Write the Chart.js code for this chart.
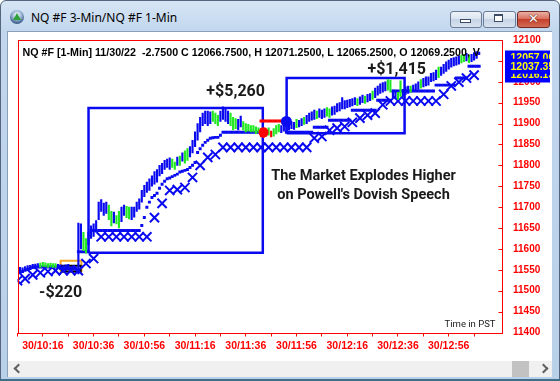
<!DOCTYPE html>
<html>
<head>
<meta charset="utf-8">
<title>NQ #F 3-Min/NQ #F 1-Min</title>
<script src="https://cdn.jsdelivr.net/npm/chart.js@4.4.1/dist/chart.umd.min.js"></script>
<style>
  html, body { margin:0; padding:0; width:560px; height:381px; overflow:hidden; background:#ffffff; }
  .abs { position:absolute; }
  #frame { left:0; top:0; width:558px; height:379px; border:1px solid #55667c; border-radius:6px 6px 1px 1px; background:linear-gradient(180deg,#d6e5f5 0px,#c2d7ee 30px,#b9d0e9 100%); }
  #title { left:31px; top:10px; font-family:"Noto Sans","DejaVu Sans",sans-serif; font-size:12px; color:#000; line-height:16px; white-space:nowrap; }
  #icon { left:10px; top:10px; width:14px; height:14px; border-radius:50%; background:radial-gradient(circle at 50% 35%, #ffffff 0%, #a9c1dc 35%, #40638f 72%, #1f3a60 100%); }
  #tri { left:13px; top:13px; width:0; height:0; border-left:4px solid transparent; border-right:4px solid transparent; border-bottom:7px solid #2fa03a; }
  .btn { top:11px; height:15px; border:1px solid #6a7c96; border-radius:3px; background:linear-gradient(180deg,#eef3f9 0%,#dbe5f1 45%,#c6d4e6 50%,#d9e3ef 100%); }
  #bmin { left:450px; width:30px; }
  #bmax { left:483px; width:31px; }
  #bclose { left:517px; width:31px; border-color:#6e2a22; background:linear-gradient(180deg,#eab0a4 0%,#d9705f 45%,#c4412e 50%,#d36b55 100%); }
  #imin { left:460px; top:19px; width:9px; height:2px; background:#fff; border:1px solid #3b4b63; }
  #imax { left:494px; top:14px; width:7px; height:5px; background:#fff; border:1px solid #3b4b63; border-top-width:2px; }
  #iclose { left:517px; top:10px; width:33px; text-align:center; font: bold 13px "DejaVu Sans", sans-serif; color:#fff; line-height:17px; text-shadow: 0 0 1px #5a1a12, 0 0 1px #5a1a12; }
  #client { left:7px; top:31px; width:545px; height:346px; background:#fff; border-top:1px solid #8a9fb8; border-left:1px solid #8a9fb8; box-sizing:border-box; }
  #hscroll { left:8px; top:361px; width:544px; height:16px; background:#f0f0f0; }
  #thumb { left:512px; top:361px; width:17px; height:16px; background:#c2c2c2; }
  .chev { width:5px; height:5px; border-left:2px solid #606060; border-bottom:2px solid #606060; }
  #larr { left:15px; top:365px; transform:rotate(45deg); }
  #rarr { left:540px; top:365px; transform:rotate(-135deg); }
  #bottomline { left:0; top:379px; width:560px; height:2px; background:#3f6f86; }
  #chart { position:absolute; left:0; top:0; z-index:5; }
</style>
</head>
<body>
<div class="abs" id="frame"></div>
<div class="abs" id="icon"></div>
<div class="abs" id="tri"></div>
<div class="abs" id="title">NQ #F 3-Min/NQ #F 1-Min</div>
<div class="abs btn" id="bmin"></div>
<div class="abs btn" id="bmax"></div>
<div class="abs btn" id="bclose"></div>
<div class="abs" id="imin"></div>
<div class="abs" id="imax"></div>
<div class="abs" id="iclose">✕</div>
<div class="abs" id="client"></div>
<div class="abs" id="hscroll"></div>
<div class="abs" id="thumb"></div>
<div class="abs chev" id="larr"></div>
<div class="abs chev" id="rarr"></div>
<div class="abs" id="bottomline"></div>
<canvas id="chart" width="560" height="381"></canvas>
<script>
// ---------------- DATA ----------------
const headerText = "NQ #F [1-Min] 11/30/22  -2.7500 C 12066.7500, H 12071.2500, L 12065.2500, O 12069.2500, V";

// x axis: minutes after 10:00 (PST)
const tickMinutes = [6,16,26,36,46,56,66,76,86,96,106,116,126,136,146,156,166,176,186];
const timeLabelMinutes = [16,36,56,76,96,116,136,156,176];
const timeLabels = ['30/10:16','30/10:36','30/10:56','30/11:16','30/11:36','30/11:56','30/12:16','30/12:36','30/12:56'];

// y axis
const priceMin = 11400, priceMax = 12100, priceStep = 50;

// 1-minute bars, first bar at minute 7 (10:07), one bar per minute
const firstMinute = 7;
const barLow = [
 11545,11544,11548,11550,11552,
 11553,11552,11555,11556,11558,11557,11556,11557,11556,
 11556,11554,11552,11550,11548,11550,11551,11549,11548,
 11540,11600,11596,11590,11610,11625,11630,11640,
 11670,11690,11680,11685,11670,
 11655,11662,11660,11650,11665,11680,11675,11672,11670,11676,
 11690,11695,11712,11725,11735,11740,11750,11755,11760,
 11775,11780,11790,11795,11790,11795,11790,11800,
 11800,11810,11805,11812,11820,11830,11845,11860,11880,11895,11900,11895,11900,
 11905,11900,11895,11905,11910,11905,11900,11895,
 11885,11888,11885,11892,11885,11880,11882,11880,11880,11876,11878,
 11868,11866,11870,11872,11868,11870,11875,11880,11878,
 11882,11880,11884,11888,11886,11890,11892,11895,
 11898,11900,11905,11908,11910,11912,11915,11912,11915,11918,11915,11920,
 11922,11928,11930,11935,11935,11938,11940,11942,11945,11943,11946,
 11950,11948,11952,11955,11958,11962,11968,11972,11975,11978,11980,11975,
 11962,11960,11958,11965,11965,
 11970,11972,11975,11978,11980,11982,11985,11988,11990,11992,
 12000,12002,12005,12010,12015,12020,12025,12030,12035,12038,12040,12042,
 12045,12048,12050,12046,12048,12052,12056,12065
];
const barHigh = [
 11556,11555,11558,11560,11561,
 11563,11564,11565,11566,11568,11567,11565,11566,11565,
 11565,11563,11562,11560,11562,11563,11558,11560,11556,
 11662,11660,11640,11625,11640,11655,11660,11668,
 11712,11718,11710,11712,11705,
 11690,11688,11680,11690,11700,11705,11702,11700,11700,11700,
 11712,11720,11740,11752,11760,11768,11775,11785,11790,
 11800,11805,11812,11815,11818,11815,11808,11820,
 11822,11830,11835,11840,11845,11860,11880,11900,11915,11925,11930,11930,11928,
 11930,11925,11920,11930,11940,11935,11930,11925,
 11915,11912,11910,11918,11905,11900,11898,11895,11895,11892,11890,
 11888,11885,11886,11890,11882,11888,11895,11898,11895,
 11900,11898,11900,11905,11903,11910,11908,11912,
 11915,11920,11925,11928,11932,11930,11935,11932,11935,11938,11935,11940,
 11942,11948,11950,11962,11955,11956,11958,11960,11962,11960,11964,
 11968,11966,11970,11972,11978,11985,11990,11995,11998,12000,12005,12004,
 11980,11978,11975,12002,11982,
 11988,11990,11990,11992,11995,12000,12005,12008,12012,12012,
 12020,12022,12028,12035,12035,12042,12048,12052,12056,12058,12060,12062,
 12064,12066,12068,12064,12066,12070,12072,12071
];
// bar state: B = blue, G = green, R = red
const barState = (
 "BBBBB" + "BBBGGGGGG" + "GBBBBBBBB" + "BBGGBBBB" + "BBBBG" +
 "GBGGBBGGBB" + "BBBBBBBBB" + "BBBBBGGB" + "GBGGBBBBBBBBB" + "GGGBBBBG" +
 "GGBBGGGGGGG" + "RRRGRGGGB" + "BBBBBGBB" + "GBBBBGBBBGGB" + "BBBBBBBBBGB" +
 "BGBBGBBBBBGG" + "BBGGB" + "BBGBBBGBBB" + "BBBGBBBBBBBB" + "GGBGBBBB"
).split('');

// 1-minute trailing stop dots (aligned with bars, null = none)
const stopDots = [
 11543,11546,11549,11551,11553,
 11557,11557,11557,11557,11557,11557,11557,11557,11557,11557,11557,
 11553,11553,11553,11553,11553,11553,11553,
 11593,11593,11593,11593,11593,
 11644,11644,11644,11644,11644,11644,11644,11644,11644,11644,
 11644,11644,11644,11644,11644,11644,11644,11644,11644,11644,
 11656,11675,11700,11712,11723,11728,11733,
 11745,11755,11762,11768,11770,11773,11776,11779,
 11784,11786,11788,11790,11795,11800,11807,11831,11840,11848,11855,11860,11865,11866,11867,11867,11872,
 11879,11879,11879,11879,11879,11879,11879,11879,11879,11879,11879,11879,11879,11879,11879,
 11906,11906,11906,11906,11906,11906,11906,11906,11906,
 null,
 11879,11879,11879,11879,11879,11879,11879,11879,11879,11879,11879,
 11891,11891,11891,11891,11891,11891,
 11908,11908,11908,11908,11908,11908,11908,11908,11908,
 11932,11932,11932,11932,11932,11932,11932,11932,11932,11932,
 11956,11956,11956,11956,11956,11956,
 11978,11978,11978,11978,11978,11978,11978,11978,11978,11978,11978,11978,11978,11978,11978,11978,11978,
 11992,11992,11992,11992,11992,11992,11992,11992,
 12009,12009,12009,12009,12009,
 12037,12037,12037,12037,12037
];
// minutes where the stop dots sit above price (drawn red)
const stopAboveMinutes = [102,103,104,105,106,107,108,109,110];

// 3-minute stop (X markers)
const xStopMinutes = [6,9,12,15,18,21,24,27,30,33,36,39,42,45,48,51,54,57,60,63,66,69,72,75,78,81,84,87,90,93,96,99,102,105,108,111,114,117,120,123,126,129,132,135,138,141,144,147,150,153,156,159,162,165,168,171,174,177,180,183,186];
const xStopValues = [11524,11529,11538,11543,11546,11548,11548,11548,11548,11565,11577,
 11629,11629,11629,11629,11629,11629,11629,
 11675,11709,11740,11742,11747,11771,11800,11819,11826,
 11843,11843,11843,11843,11843,11843,11843,11843,11843,11843,11843,11843,
 11865,11869,11884,11889,11893,11903,11913,11920,11925,11945,
 11954,11954,11954,11954,11954,11954,11954,
 11970,11990,11999,12009,12016];

// trade boxes (minutes / prices)
const winBoxStart = [34.0, 112.1];
const winBoxEnd   = [102.7, 158.6];
const winBoxLow   = [11591, 11877];
const winBoxHigh  = [11937, 12009];
const lossBoxStart = 23.0, lossBoxEnd = 31.2, lossBoxLow = 11546, lossBoxHigh = 11572;
const stopBoxStart = 23.4, stopBoxEnd = 30.9, stopBoxLow = 11546, stopBoxHigh = 11560;
const exitDotMinute = 103.0, exitDotPrice = 11879;
const entryDotMinute = 112.0, entryDotPrice = 11905;

// text annotations
const tradeLabels = ['+$5,260', '+$1,415', '-$220'];
const tradeLabelMinutes = [92.0, 155.5, 23.0];
const tradeLabelPrices = [11975, 12028, 11495];
const noteLines = ["The Market Explodes Higher", "on Powell's Dovish Speech"];
const noteMinute = 142.4;
const notePrices = [11773, 11728];
const cornerNote = 'Time in PST';

// last value flags on the price axis (drawn in this order)
const flagValues = [12057.0, 12016.1, 12037.3];
const flagTexts = ['12057.00', '12016.13', '12037.35'];

// ---------------- CHART ----------------
const BLUE = '#0a0af0', GREEN = '#22e822', RED = '#ff0000';
const stateColor = { B: BLUE, G: GREEN, R: RED };

const barData = barLow.map((lo, i) => ({ x: firstMinute + i, y: [lo, barHigh[i]] }));
const dotData = [], dotColors = [];
stopDots.forEach((v, i) => {
  if (v === null) return;
  const m = firstMinute + i;
  dotData.push({ x: m, y: v });
  dotColors.push(stopAboveMinutes.includes(m) ? RED : BLUE);
});
const xData = xStopMinutes.map((m, i) => ({ x: m, y: xStopValues[i] }));
function rectPath(s, e, lo, hi) {
  return [{x:s,y:lo},{x:s,y:hi},{x:e,y:hi},{x:e,y:lo},{x:s,y:lo}];
}
const boxSets = winBoxStart.map((s, i) => ({
  type: 'line', data: rectPath(s, winBoxEnd[i], winBoxLow[i], winBoxHigh[i]),
  borderColor: BLUE, borderWidth: 2.5, pointRadius: 0, fill: false, tension: 0, order: 6
}));

const overlay = {
  id: 'overlay',
  afterDraw(chart) {
    const { ctx, chartArea: a, scales: { x, y } } = chart;
    ctx.save();
    // plot border
    ctx.strokeStyle = RED; ctx.lineWidth = 1;
    ctx.strokeRect(Math.round(a.left) + 0.5, Math.round(a.top) + 0.5, Math.round(a.right - a.left) - 1, Math.round(a.bottom - a.top));
    // y tick marks (inward)
    ctx.beginPath();
    y.ticks.forEach(t => {
      const yy = Math.round(y.getPixelForValue(t.value)) + 0.5;
      ctx.moveTo(a.right - 4, yy); ctx.lineTo(a.right, yy);
    });
    ctx.stroke();

    // header text
    ctx.save();
    ctx.beginPath(); ctx.rect(a.left, a.top, 469, 30); ctx.clip();
    ctx.fillStyle = '#000';
    ctx.font = 'bold 10.7px "Liberation Sans", Arial, sans-serif';
    ctx.textBaseline = 'alphabetic'; ctx.textAlign = 'left';
    ctx.fillText(headerText, a.left + 5, a.top + 16);
    ctx.restore();

    // trade labels
    ctx.fillStyle = '#1a1a1a';
    ctx.font = 'bold 16px Roboto, "Noto Sans", sans-serif';
    ctx.textAlign = 'center'; ctx.textBaseline = 'middle';
    tradeLabels.forEach((t, i) => ctx.fillText(t, x.getPixelForValue(tradeLabelMinutes[i]), y.getPixelForValue(tradeLabelPrices[i])));
    ctx.font = 'bold 14.5px Roboto, "Noto Sans", sans-serif';
    noteLines.forEach((t, i) => ctx.fillText(t, x.getPixelForValue(noteMinute), y.getPixelForValue(notePrices[i])));
    ctx.font = '9.5px Roboto, "Noto Sans", sans-serif';
    ctx.textAlign = 'right'; ctx.textBaseline = 'alphabetic';
    ctx.fillText(cornerNote, a.right - 7, a.bottom - 6);

    // price flags on the axis
    ctx.font = 'bold 10.5px "Liberation Sans", Arial, sans-serif';
    ctx.textAlign = 'left'; ctx.textBaseline = 'middle';
    flagValues.forEach((v, i) => {
      const yy = y.getPixelForValue(v);
      ctx.save();
      ctx.beginPath(); ctx.rect(a.right + 2.5, yy - 7.5, 45, 15); ctx.fillStyle = '#0000ff'; ctx.fill(); ctx.clip();
      ctx.fillStyle = '#ffff00';
      ctx.fillText(flagTexts[i], a.right + 8, yy + 0.5);
      ctx.restore();
    });
    ctx.restore();
  }
};

new Chart(document.getElementById('chart'), {
  data: {
    datasets: [
      { type: 'line', data: [{x: entryDotMinute, y: entryDotPrice}], showLine: false, pointRadius: 5.5, pointBackgroundColor: BLUE, pointBorderWidth: 0, order: 0 },
      { type: 'line', data: [{x: exitDotMinute, y: exitDotPrice}], showLine: false, pointRadius: 5, pointBackgroundColor: RED, pointBorderWidth: 0, order: 0 },
      { type: 'bar', data: barData, backgroundColor: barState.map(s => stateColor[s]), barThickness: 1.5, borderWidth: 0, grouped: false, order: 1 },
      { type: 'line', data: dotData, showLine: false, pointStyle: 'rect', pointRadius: 2.1, pointBorderWidth: 0, pointBackgroundColor: dotColors, order: 2 },
      { type: 'line', data: xData, showLine: false, pointStyle: 'crossRot', pointRadius: 6.5, pointBorderWidth: 2, pointBorderColor: BLUE, pointBackgroundColor: BLUE, order: 3 },
      ...boxSets,
      { type: 'line', data: rectPath(lossBoxStart, lossBoxEnd, lossBoxLow, lossBoxHigh), borderColor: '#f5a623', borderWidth: 2, pointRadius: 0, fill: false, order: 5 },
      { type: 'line', data: rectPath(stopBoxStart, stopBoxEnd, stopBoxLow, stopBoxHigh), borderColor: '#000000', borderWidth: 2, pointRadius: 0, fill: false, order: 4 }
    ]
  },
  options: {
    responsive: false,
    devicePixelRatio: 1,
    animation: false,
    events: [],
    layout: { padding: { left: 17.5, top: 40, right: 0, bottom: 0 } },
    plugins: { legend: { display: false }, tooltip: { enabled: false } },
    scales: {
      x: {
        type: 'linear', min: 6, max: 197.2, offset: false,
        afterBuildTicks(scale) { scale.ticks = tickMinutes.map(v => ({ value: v })); },
        afterFit(scale) { scale.height = 48.5; },
        grid: { display: true, offset: false, drawOnChartArea: false, drawTicks: true, tickLength: 4, color: RED, lineWidth: 1 },
        border: { display: false },
        ticks: {
          autoSkip: false, maxRotation: 0, padding: 3, color: RED,
          font: { family: '"Liberation Sans", Arial, sans-serif', size: 10.5, weight: 'bold' },
          callback(value) { const i = timeLabelMinutes.indexOf(value); return i >= 0 ? timeLabels[i] : ''; }
        }
      },
      y: {
        type: 'linear', position: 'right', min: priceMin, max: priceMax,
        afterFit(scale) { scale.width = 57.5; },
        grid: { display: false, drawTicks: false },
        border: { display: false },
        ticks: {
          stepSize: priceStep, padding: 10.5, color: RED,
          font: { family: '"Liberation Sans", Arial, sans-serif', size: 10, weight: 'bold' },
          callback(value) { return String(value); }
        }
      }
    }
  },
  plugins: [overlay]
});
</script>
</body>
</html>
